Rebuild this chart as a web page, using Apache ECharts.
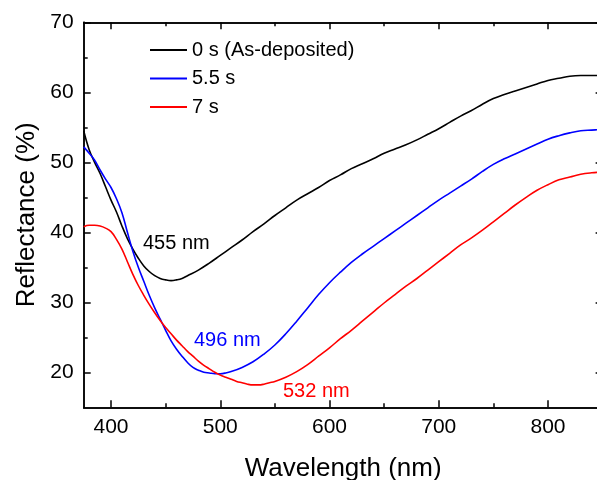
<!DOCTYPE html>
<html>
<head>
<meta charset="utf-8">
<script src="https://cdn.jsdelivr.net/npm/echarts@6/dist/echarts.min.js"></script>
<style>
  html, body { margin: 0; padding: 0; background: #fff; }
  #chart { width: 597px; height: 480px; }
</style>
</head>
<body>
<div id="chart"></div>
<script>
// wavelength (nm) and reflectance (%)
const wl0 = [375, 380, 385, 390, 395, 400, 405, 410, 415, 420, 425, 430, 435, 440, 445, 450, 455, 460, 465, 470, 480, 490, 500, 510, 520, 530, 540, 550, 560, 570, 580, 590, 600, 610, 620, 630, 640, 650, 660, 670, 680, 690, 700, 710, 720, 730, 740, 750, 760, 770, 780, 790, 800, 810, 820, 830, 840, 850]
const r0 = [54.5, 51.8, 50.0, 48.4, 46.5, 44.6, 42.9, 40.9, 39.1, 37.6, 36.3, 35.2, 34.4, 33.8, 33.4, 33.2, 33.1, 33.2, 33.4, 33.8, 34.6, 35.6, 36.7, 37.8, 38.9, 40.1, 41.2, 42.4, 43.5, 44.6, 45.5, 46.4, 47.4, 48.2, 49.1, 49.8, 50.5, 51.3, 51.9, 52.5, 53.2, 54.0, 54.8, 55.7, 56.6, 57.4, 58.3, 59.1, 59.7, 60.2, 60.7, 61.2, 61.7, 62.0, 62.3, 62.4, 62.4, 62.4]

const wl55 = [375, 380, 385, 390, 395, 400, 405, 410, 415, 420, 425, 430, 435, 440, 445, 450, 455, 460, 465, 470, 475, 480, 485, 490, 495, 500, 505, 510, 520, 530, 540, 550, 560, 570, 580, 590, 600, 610, 620, 630, 640, 650, 660, 670, 680, 690, 700, 710, 720, 730, 740, 750, 760, 770, 780, 790, 800, 810, 820, 830, 840, 850]
const r55 = [52.2, 51.3, 50.3, 48.9, 47.6, 46.4, 44.8, 42.8, 40.0, 37.3, 35.0, 33.0, 31.0, 29.2, 27.6, 26.0, 24.5, 23.3, 22.3, 21.4, 20.7, 20.3, 20.0, 19.9, 19.8, 19.8, 19.9, 20.1, 20.7, 21.5, 22.6, 23.9, 25.5, 27.3, 29.2, 31.1, 32.8, 34.3, 35.7, 36.9, 38.0, 39.1, 40.2, 41.3, 42.4, 43.5, 44.6, 45.6, 46.6, 47.6, 48.7, 49.7, 50.5, 51.2, 51.9, 52.6, 53.3, 53.8, 54.2, 54.5, 54.6, 54.7]

const wl7 = [375, 380, 385, 390, 395, 400, 405, 410, 415, 420, 425, 430, 435, 440, 445, 450, 455, 460, 465, 470, 475, 480, 485, 490, 495, 500, 505, 510, 515, 520, 525, 530, 535, 540, 545, 550, 560, 570, 580, 590, 600, 610, 620, 630, 640, 650, 660, 670, 680, 690, 700, 710, 720, 730, 740, 750, 760, 770, 780, 790, 800, 810, 820, 830, 840, 850]
const r7 = [40.8, 41.0, 41.0, 40.9, 40.6, 40.1, 39.0, 37.6, 35.8, 34.0, 32.4, 31.0, 29.7, 28.5, 27.4, 26.4, 25.5, 24.6, 23.8, 23.0, 22.3, 21.6, 21.0, 20.5, 20.0, 19.6, 19.3, 19.0, 18.7, 18.5, 18.3, 18.2, 18.2, 18.3, 18.5, 18.7, 19.3, 20.1, 21.1, 22.3, 23.5, 24.8, 26.0, 27.3, 28.6, 29.9, 31.1, 32.3, 33.4, 34.6, 35.8, 37.0, 38.2, 39.2, 40.3, 41.5, 42.7, 43.9, 45.0, 46.0, 46.8, 47.5, 47.9, 48.3, 48.5, 48.6]

const seriesNames = ['0 s (As-deposited)', '5.5 s', '7 s']
const seriesColors = ['#000000', '#0000ff', '#ff0000']

// axis ranges and tick positions
const xMin = 375, xMax = 850
const yMin = 15, yMax = 70
const xMajor = [400, 500, 600, 700, 800]
const xMinor = [450, 550, 650, 750]
const yMajor = [20, 30, 40, 50, 60, 70]
const yMinor = [25, 35, 45, 55, 65]

const font = 'Liberation Sans, Arial, sans-serif'

const zip = (xs, ys) => xs.map((x, i) => [x, ys[i]])

const chart = echarts.init(document.getElementById('chart'))

const lineStyle = { color: '#000', width: 1.5 }
const tick = (len, values) => ({ show: true, inside: true, length: len, customValues: values, lineStyle })

const xBase = {
  type: 'value', min: xMin, max: xMax, gridIndex: 0,
  splitLine: { show: false },
  axisLine: { show: true, onZero: false, lineStyle }
}
const yBase = {
  type: 'value', min: yMin, max: yMax, gridIndex: 0,
  splitLine: { show: false },
  axisLine: { show: true, onZero: false, lineStyle }
}

chart.setOption({
  animation: false,
  backgroundColor: '#fff',
  grid: { left: 83.7, right: -5.6, top: 22.3, bottom: 72.7, containLabel: false, outerBoundsMode: 'none' },
  legend: {
    orient: 'vertical', left: 150, top: 40, padding: 0,
    itemWidth: 37, itemHeight: 2, itemGap: 8.5,
    icon: 'rect',
    textStyle: { fontFamily: font, fontSize: 20, color: '#000', lineHeight: 20 },
    data: seriesNames
  },
  xAxis: [
    Object.assign({}, xBase, {
      position: 'bottom',
      axisTick: tick(7, xMajor),
      axisLabel: { margin: 9, fontFamily: font, fontSize: 21, color: '#000', customValues: xMajor },
      name: 'Wavelength (nm)', nameLocation: 'middle', nameGap: 49,
      nameTextStyle: { fontFamily: font, fontSize: 26, color: '#000' }
    }),
    Object.assign({}, xBase, { position: 'bottom', axisTick: tick(4, xMinor), axisLabel: { show: false } }),
    Object.assign({}, xBase, { position: 'top', axisTick: tick(7, xMajor), axisLabel: { show: false } }),
    Object.assign({}, xBase, { position: 'top', axisTick: tick(4, xMinor), axisLabel: { show: false } })
  ],
  yAxis: [
    Object.assign({}, yBase, {
      position: 'left',
      axisTick: tick(7, yMajor),
      axisLabel: { margin: 10, fontFamily: font, fontSize: 21, color: '#000', customValues: yMajor },
      name: 'Reflectance (%)', nameLocation: 'middle', nameGap: 41,
      nameTextStyle: { fontFamily: font, fontSize: 26, color: '#000' }
    }),
    Object.assign({}, yBase, { position: 'left', axisTick: tick(4, yMinor), axisLabel: { show: false } }),
    Object.assign({}, yBase, { position: 'right', axisTick: tick(7, yMajor), axisLabel: { show: false } }),
    Object.assign({}, yBase, { position: 'right', axisTick: tick(4, yMinor), axisLabel: { show: false } })
  ],
  series: [
    { name: seriesNames[0], data: zip(wl0, r0) },
    { name: seriesNames[1], data: zip(wl55, r55) },
    { name: seriesNames[2], data: zip(wl7, r7) }
  ].map((s, i) => Object.assign(s, {
    type: 'line', xAxisIndex: 0, yAxisIndex: 0,
    smooth: 0.4, showSymbol: false, symbol: 'none',
    color: seriesColors[i],
    lineStyle: { color: seriesColors[i], width: 1.6 }
  })),
  graphic: [
    { type: 'text', x: 143, y: 243, style: { text: '455 nm', fill: '#000', font: '20px ' + font, textVerticalAlign: 'middle' } },
    { type: 'text', x: 194, y: 340, style: { text: '496 nm', fill: '#0000ff', font: '20px ' + font, textVerticalAlign: 'middle' } },
    { type: 'text', x: 283, y: 391, style: { text: '532 nm', fill: '#ff0000', font: '20px ' + font, textVerticalAlign: 'middle' } }
  ]
})
</script>
</body>
</html>
